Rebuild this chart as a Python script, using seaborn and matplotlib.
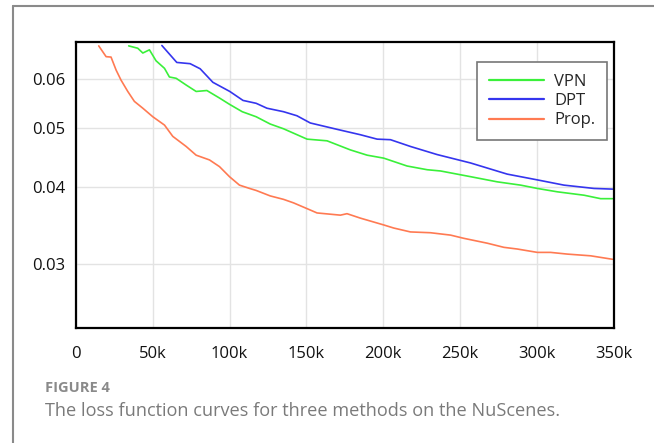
import matplotlib
matplotlib.use("Agg")
import matplotlib.pyplot as plt
import matplotlib.ticker as mticker
from matplotlib.lines import Line2D
import seaborn as sns
import pandas as pd

# values (step in thousands, loss)
vpn_step = [34.3, 40.2, 43.5, 47.8, 52.1, 57.6, 60.8, 65.2, 71.7, 78.2, 85.2, 93.4, 99.9,
            108.2, 117.3, 126.4, 135.1, 150.4, 163.4, 178.6, 189.5, 200.3, 215.5, 228.6,
            237.3, 256.8, 274.2, 289.4, 300.3, 313.3, 330.7, 341.5, 349.2]
vpn_loss = [0.0680, 0.0674, 0.0662, 0.0670, 0.0643, 0.0625, 0.0605, 0.0602, 0.0587, 0.0573,
            0.0575, 0.0559, 0.0546, 0.0531, 0.0521, 0.0507, 0.0498, 0.0479, 0.0476, 0.0460,
            0.0451, 0.0446, 0.0433, 0.0427, 0.0425, 0.0416, 0.0408, 0.0403, 0.0398, 0.0393,
            0.0388, 0.0383, 0.0383]

dpt_step = [55.9, 65.6, 74.3, 80.8, 89.1, 100.1, 108.7, 117.3, 124.3, 135.1, 143.8, 152.5,
            169.9, 185.1, 196.0, 204.7, 217.7, 235.1, 256.8, 280.7, 300.3, 317.6, 337.2, 349.2]
dpt_loss = [0.0681, 0.0639, 0.0636, 0.0624, 0.0593, 0.0573, 0.0554, 0.0548, 0.0538, 0.0531,
            0.0523, 0.0509, 0.0497, 0.0487, 0.0479, 0.0478, 0.0466, 0.0452, 0.0438, 0.0420,
            0.0411, 0.0403, 0.0398, 0.0397]

prop_step = [14.8, 19.6, 22.8, 26.1, 29.3, 33.7, 38.0, 43.5, 50.0, 57.6, 63.0, 71.7, 78.2,
             86.9, 93.4, 99.9, 106.4, 113.0, 117.3, 126.4, 135.1, 141.6, 151.4, 156.9, 172.1,
             176.4, 185.1, 200.3, 206.8, 217.7, 230.7, 243.8, 252.4, 267.7, 278.5, 287.2,
             300.3, 308.9, 319.8, 335.0, 349.2]
prop_loss = [0.0680, 0.0653, 0.0652, 0.0621, 0.0598, 0.0573, 0.0552, 0.0538, 0.0521, 0.0505,
             0.0484, 0.0466, 0.0451, 0.0443, 0.0432, 0.0416, 0.0403, 0.0398, 0.0395, 0.0387,
             0.0382, 0.0377, 0.0368, 0.0363, 0.0360, 0.0362, 0.0356, 0.0347, 0.0343, 0.0338,
             0.0337, 0.0334, 0.0330, 0.0324, 0.0319, 0.0317, 0.0313, 0.0313, 0.0311, 0.0309,
             0.0305]

methods = ["VPN", "DPT", "Prop."]
colors = ["#3af03a", "#3535ee", "#ff7a52"]
x_ticks = [0, 50, 100, 150, 200, 250, 300, 350]
x_tick_labels = ["0", "50k", "100k", "150k", "200k", "250k", "300k", "350k"]
y_ticks = [0.03, 0.04, 0.05, 0.06]
y_tick_labels = ["0.03", "0.04", "0.05", "0.06"]
caption_head = "FIGURE 4"
caption_text = "The loss function curves for three methods on the NuScenes."

df = pd.concat([
    pd.DataFrame({"step": vpn_step, "loss": vpn_loss, "method": "VPN"}),
    pd.DataFrame({"step": dpt_step, "loss": dpt_loss, "method": "DPT"}),
    pd.DataFrame({"step": prop_step, "loss": prop_loss, "method": "Prop."}),
], ignore_index=True)

sns.set_style("white")
plt.rcParams["font.family"] = ["Open Sans", "DejaVu Sans"]

fig = plt.figure(figsize=(6.54, 4.43), dpi=100)
ax = fig.add_axes([0.1162, 0.2596, 0.8222, 0.6456])

sns.lineplot(data=df, x="step", y="loss", hue="method", hue_order=methods,
             palette=colors, estimator=None, sort=False, linewidth=1.2, ax=ax)

ax.set_yscale("log")
ax.set_xlim(0, 350)
ax.set_ylim(0.02356, 0.0690)
ax.set_xticks(x_ticks)
ax.set_xticklabels(x_tick_labels)
ax.yaxis.set_major_locator(mticker.FixedLocator(y_ticks))
ax.yaxis.set_major_formatter(mticker.FixedFormatter(y_tick_labels))
ax.yaxis.set_minor_locator(mticker.NullLocator())
ax.tick_params(axis="both", length=0, labelsize=12, colors="#111111")
ax.tick_params(axis="x", pad=13)
ax.tick_params(axis="y", pad=8)
ax.grid(True, color="#e3e3e3", linewidth=1.0)
ax.set_xlabel("")
ax.set_ylabel("")
for s in ax.spines.values():
    s.set_color("black")
    s.set_linewidth(1.6)

leg = ax.legend(loc="upper right", bbox_to_anchor=(0.987, 0.930), borderaxespad=0,
                fancybox=False, edgecolor="#777777", fontsize=12, handlelength=3.3,
                handletextpad=0.6, labelspacing=0.2, borderpad=0.7, framealpha=1)
leg.get_frame().set_linewidth(1.2)
for line in leg.get_lines():
    line.set_linewidth(1.6)

# outer page frame
fig.add_artist(Line2D([13 / 654, 13 / 654], [0, 1 - 6 / 443], color="#8a8a8a", linewidth=1.5))
fig.add_artist(Line2D([13 / 654, 1], [1 - 6 / 443, 1 - 6 / 443], color="#8a8a8a", linewidth=1.5))

fig.text(45 / 654, 1 - 388 / 443, caption_head, fontsize=10.5, fontweight="bold",
         color="#8a8a8a", va="center", ha="left")
fig.text(45 / 654, 1 - 411 / 443, caption_text, fontsize=13.1, color="#7a7a7a",
         va="center", ha="left")

fig.savefig("out.png", dpi=100)
